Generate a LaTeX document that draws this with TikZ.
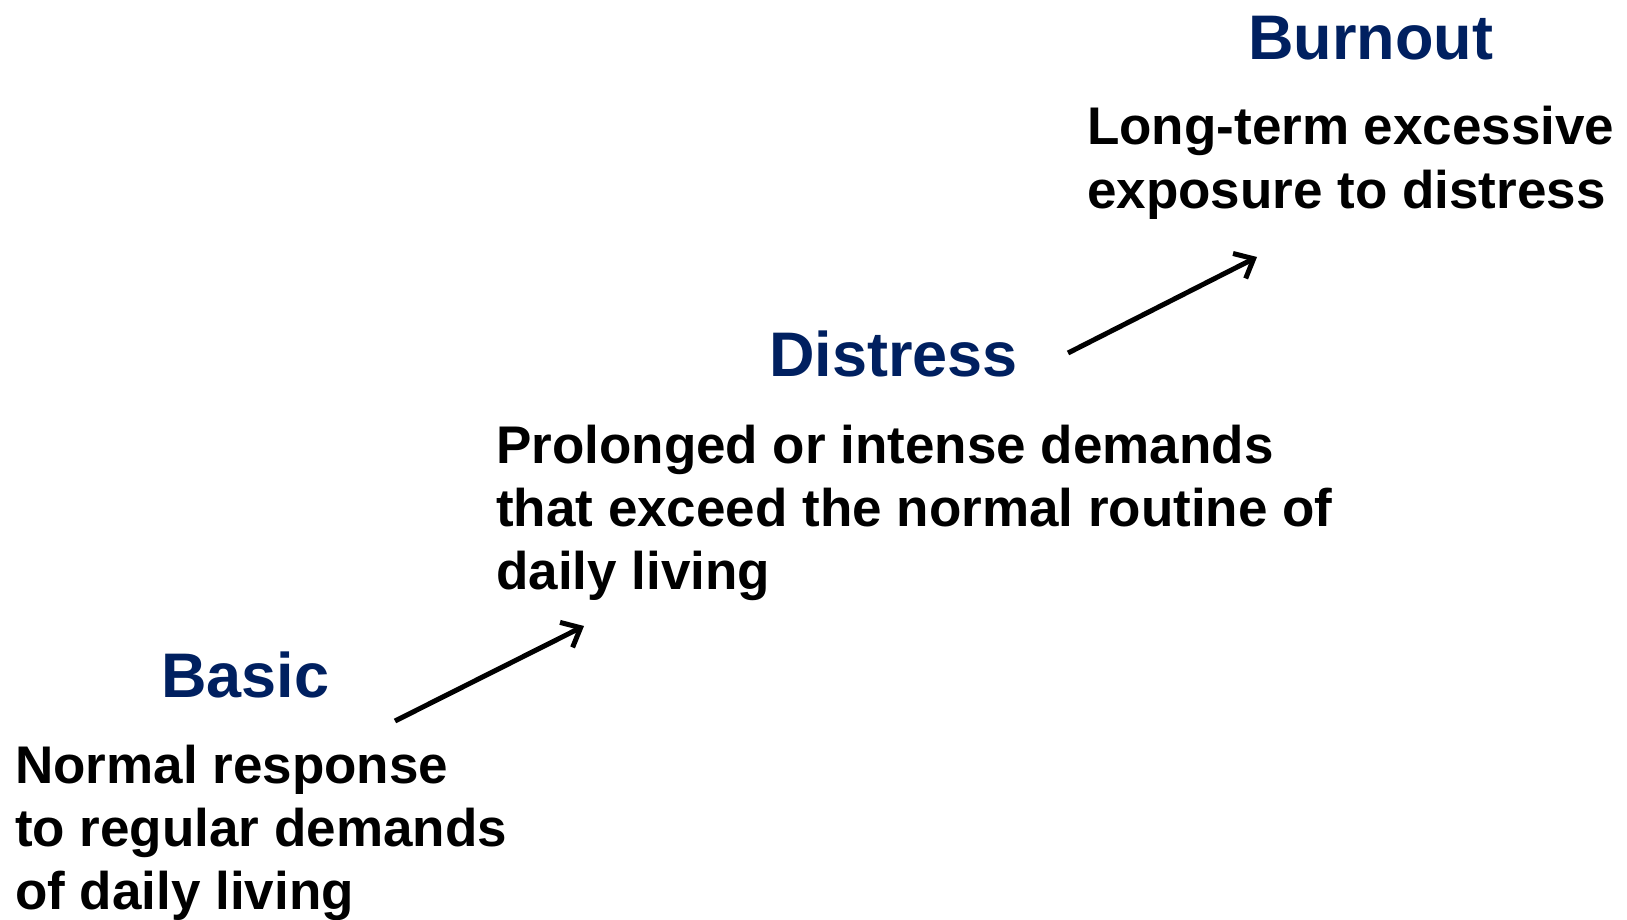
\documentclass[tikz,border=0pt]{standalone}
\usepackage{fontspec}
\setmainfont{Liberation Sans}
\usetikzlibrary{arrows.meta}
\definecolor{navy}{HTML}{002060}
\tikzset{
	stage/.style={anchor=base west,inner sep=0pt,text=navy,font=\fontsize{63}{63}\selectfont\bfseries},
	descr/.style={anchor=base west,inner sep=0pt,align=left,font=\fontsize{53}{63}\selectfont\bfseries},
	stepline/.style={line width=5pt,-{Straight Barb[length=16pt,width=28pt,line width=5pt]}}
}
\begin{document}
\begin{tikzpicture}[x=1pt,y=-1pt]
	\useasboundingbox(0,0)rectangle(1627,920);
	\node[stage](basic)at(161,697){Basic};
	\node[descr](basicd)at(15,909){Normal response\\to regular demands\\of daily living};
	\node[stage](distress)at(769,376){Distress};
	\node[descr](distressd)at(496,589){Prolonged or intense demands\\that exceed the normal routine of\\daily living};
	\node[stage](burnout)at(1248,60){Burnout};
	\node[descr](burnoutd)at(1087,208){Long-term excessive\\exposure to distress};
	\coordinate(a1)at(395,721);
	\coordinate(b1)at(584,626);
	\coordinate(a2)at(1068,353);
	\coordinate(b2)at(1257,257);
	\draw[stepline](a1)--(b1);
	\draw[stepline](a2)--(b2);
\end{tikzpicture}
\end{document}
